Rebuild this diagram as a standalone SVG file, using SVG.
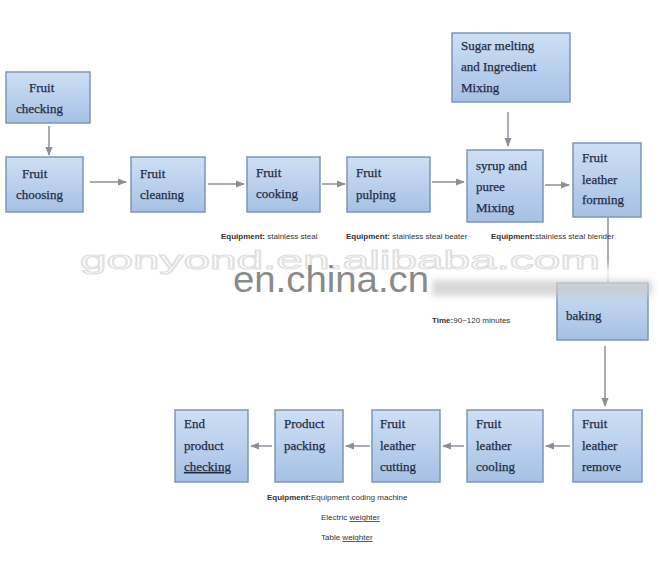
<svg xmlns="http://www.w3.org/2000/svg" width="660" height="585" viewBox="0 0 660 585">
<defs>
<linearGradient id="bx" x1="0" y1="0" x2="0" y2="1">
<stop offset="0" stop-color="#cddff4"/>
<stop offset="1" stop-color="#a6c1e5"/>
</linearGradient>
<marker id="ah" viewBox="0 0 10 10" refX="9" refY="5" markerWidth="6" markerHeight="6" orient="auto">
<path d="M0,1 L10,5 L0,9 z" fill="#8a9098"/>
</marker>
<filter id="bl" x="-10%" y="-50%" width="120%" height="200%"><feGaussianBlur stdDeviation="3"/></filter>
</defs>
<style>
.box{fill:url(#bx);stroke:#7d95b8;stroke-width:1.5}
.t{font-family:"Liberation Serif",serif;font-size:13px;fill:#1f2c46;stroke:#1f2c46;stroke-width:0.25}
.c line{stroke:#8a9098;stroke-width:1.5;marker-end:url(#ah)}
.eq{font-family:"Liberation Sans",Arial,sans-serif;font-size:8px;fill:#333}
.eq tspan.b{font-weight:bold}
.u{text-decoration:underline;text-decoration-color:#d04040}
</style>
<rect width="660" height="585" fill="#ffffff"/>

<g class="c" id="connectors">
<line x1="49" y1="126" x2="49" y2="155"/>
<line x1="90" y1="182" x2="126" y2="182"/>
<line x1="208" y1="184" x2="244" y2="184"/>
<line x1="322" y1="184" x2="345" y2="184"/>
<line x1="432" y1="182" x2="464" y2="182"/>
<line x1="508" y1="112" x2="508" y2="146"/>
<line x1="545" y1="185" x2="569" y2="185"/>
<line x1="608" y1="218" x2="608" y2="282" style="marker-end:none"/>
<line x1="605" y1="346" x2="605" y2="406"/>
<line x1="570" y1="446" x2="546" y2="446"/>
<line x1="464" y1="446" x2="443" y2="446"/>
<line x1="370" y1="446" x2="346" y2="446"/>
<line x1="272" y1="446" x2="251" y2="446"/>
</g>

<g id="fruit-checking"><rect class="box" x="6" y="72" width="84" height="51"/><text class="t" x="29" y="92">Fruit</text><text class="t" x="16" y="113">checking</text></g>
<g id="fruit-choosing"><rect class="box" x="6" y="157" width="77" height="55"/><text class="t" x="22" y="178">Fruit</text><text class="t" x="16" y="199">choosing</text></g>
<g id="fruit-cleaning"><rect class="box" x="131" y="157" width="74" height="55"/><text class="t" x="140" y="178">Fruit</text><text class="t" x="140" y="199">cleaning</text></g>
<g id="fruit-cooking"><rect class="box" x="247" y="157" width="73" height="55"/><text class="t" x="256" y="177">Fruit</text><text class="t" x="256" y="198">cooking</text></g>
<g id="fruit-pulping"><rect class="box" x="347" y="157" width="83" height="55"/><text class="t" x="356" y="177">Fruit</text><text class="t" x="356" y="199">pulping</text></g>
<g id="sugar-melting"><rect class="box" x="452" y="33" width="118" height="69"/><text class="t" x="461" y="50">Sugar melting</text><text class="t" x="461" y="71">and Ingredient</text><text class="t" x="461" y="92">Mixing</text></g>
<g id="syrup-mixing"><rect class="box" x="467" y="150" width="76" height="72"/><text class="t" x="476" y="170">syrup and</text><text class="t" x="476" y="191">puree</text><text class="t" x="476" y="212">Mixing</text></g>
<g id="leather-forming"><rect class="box" x="573" y="143" width="68" height="74"/><text class="t" x="582" y="162">Fruit</text><text class="t" x="582" y="184">leather</text><text class="t" x="582" y="204">forming</text></g>
<g id="baking"><rect class="box" x="557" y="283" width="91" height="57"/><text class="t" x="566" y="320">baking</text></g>
<g id="leather-remove"><rect class="box" x="573" y="410" width="69" height="72"/><text class="t" x="582" y="428">Fruit</text><text class="t" x="582" y="450">leather</text><text class="t" x="582" y="471">remove</text></g>
<g id="leather-cooling"><rect class="box" x="467" y="410" width="76" height="72"/><text class="t" x="476" y="428">Fruit</text><text class="t" x="476" y="450">leather</text><text class="t" x="476" y="471">cooling</text></g>
<g id="leather-cutting"><rect class="box" x="372" y="410" width="68" height="72"/><text class="t" x="380" y="428">Fruit</text><text class="t" x="380" y="450">leather</text><text class="t" x="380" y="471">cutting</text></g>
<g id="product-packing"><rect class="box" x="275" y="410" width="68" height="72"/><text class="t" x="284" y="428">Product</text><text class="t" x="284" y="450">packing</text></g>
<g id="end-checking"><rect class="box" x="175" y="410" width="73" height="72"/><text class="t" x="184" y="428">End</text><text class="t" x="184" y="450">product</text><text class="t u" x="184" y="471">checking</text></g>

<g id="notes">
<text class="eq" x="221" y="239"><tspan class="b">Equipment:</tspan> stainless steal</text>
<text class="eq" x="346" y="239"><tspan class="b">Equipment:</tspan> stainless steal beater</text>
<text class="eq" x="491" y="239"><tspan class="b">Equipment:</tspan>stainless steal blender</text>
<text class="eq" x="432" y="323"><tspan class="b">Time:</tspan>90~120 minutes</text>
<text class="eq" x="267" y="500"><tspan class="b">Equipment:</tspan>Equipment coding machine</text>
<text class="eq" x="321" y="520">Electric  <tspan class="u">weighter</tspan></text>
<text class="eq" x="321" y="540">Table <tspan class="u">weighter</tspan></text>
</g>

<g id="watermark">
<rect x="20" y="266" width="640" height="16" fill="#ffffff" opacity="0.85" filter="url(#bl)"/>
<rect x="432" y="280" width="220" height="16" fill="#c8c8c8" opacity="0.7" filter="url(#bl)"/>
<text x="80" y="269" font-family="Liberation Sans,Arial,sans-serif" font-size="26" fill="none" stroke="#e0e0e0" stroke-width="1.2" textLength="520" lengthAdjust="spacingAndGlyphs">gonyond.en.alibaba.com</text>
<text x="233" y="292" font-family="Liberation Sans,Arial,sans-serif" font-size="37" fill="#8a8a8a" textLength="196" lengthAdjust="spacingAndGlyphs">en.china.cn</text>
</g>
</svg>
